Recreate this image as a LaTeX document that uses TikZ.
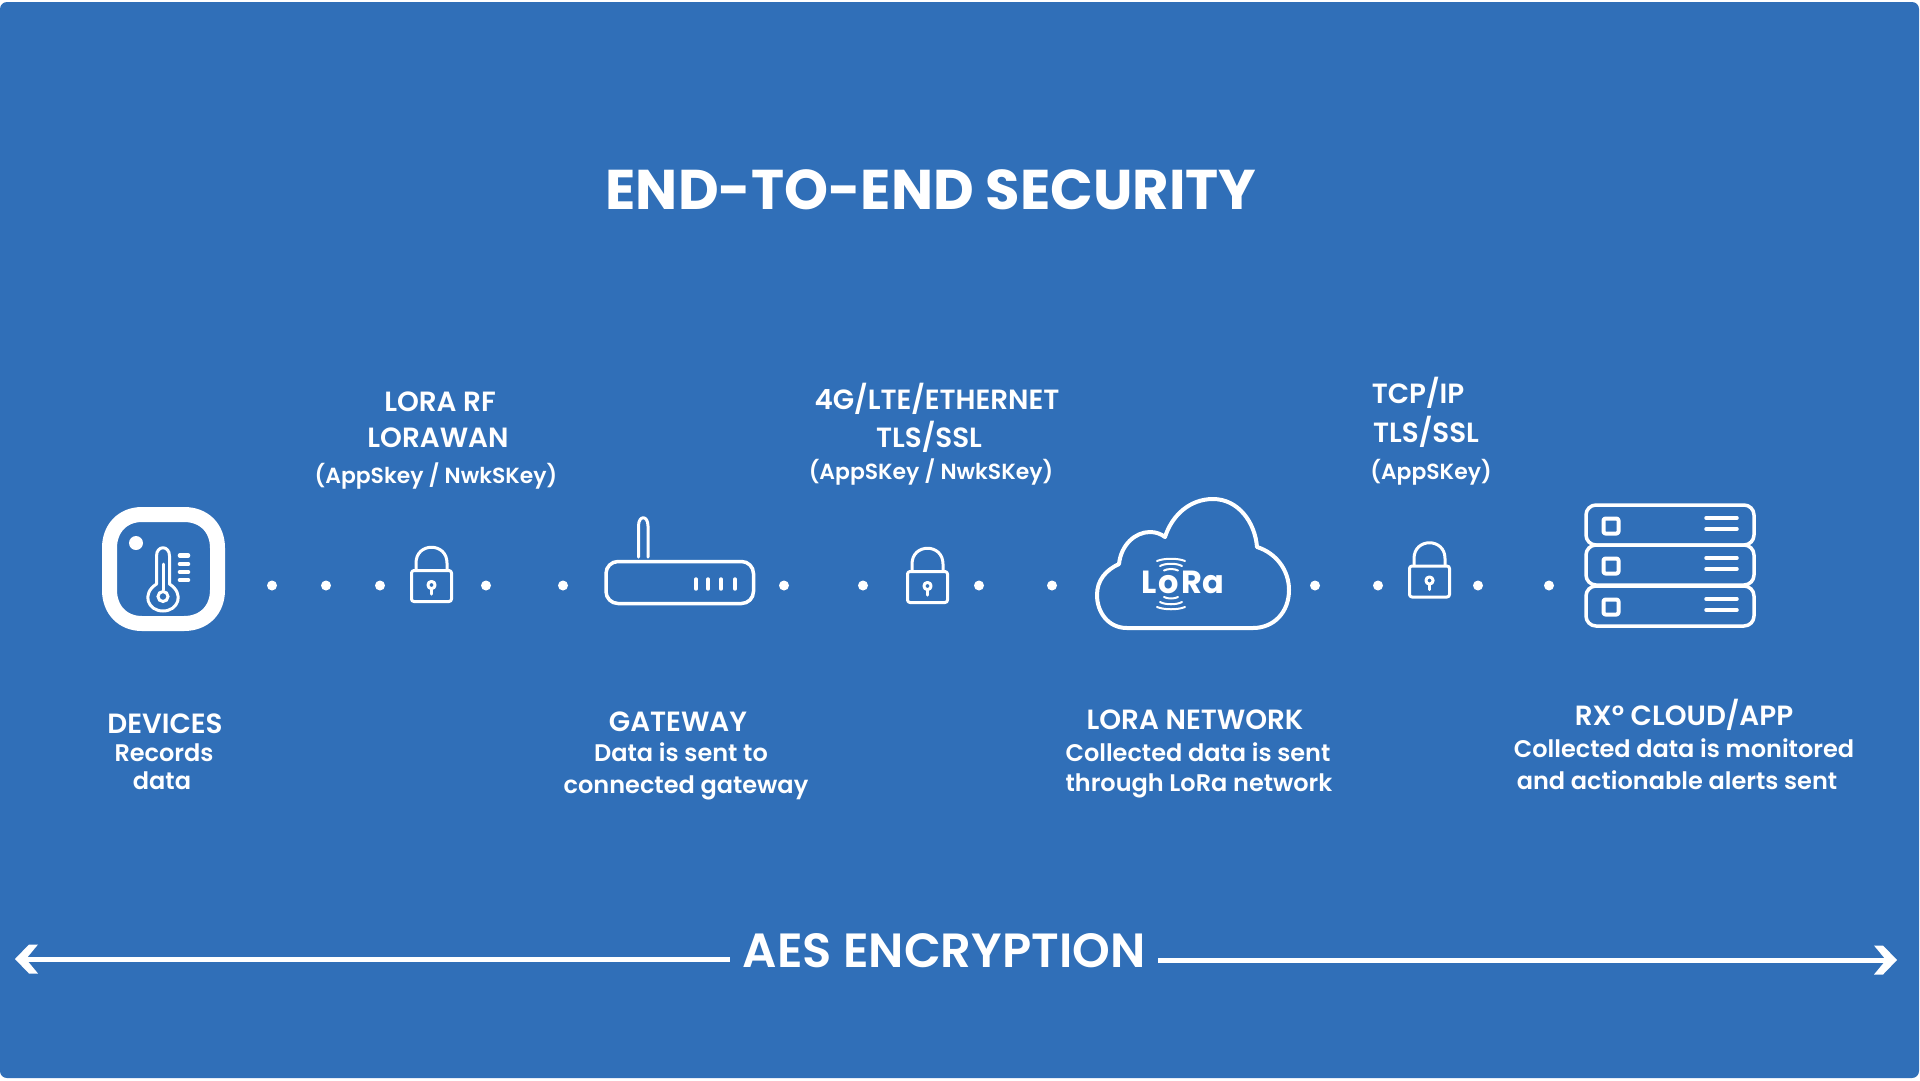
\documentclass[tikz,border=0pt]{standalone}
\usepackage{fontspec}
\usetikzlibrary{arrows.meta}
\setmainfont{Poppins}
\newfontfamily\psemi{Poppins SemiBold}
\newfontfamily\pbold{Poppins Bold}
\definecolor{bluebg}{HTML}{306FB8}
\pgfdeclarearrow{
  name=Chevron,
  setup code={
    \pgfarrowssettipend{0pt}
    \pgfarrowssetlineend{-8pt}
    \pgfarrowssetvisualbackend{-23pt}
  },
  drawing code={
    \pgfpathmoveto{\pgfpoint{0pt}{0pt}}
    \pgfpathlineto{\pgfpoint{-14pt}{14.5pt}}
    \pgfpathlineto{\pgfpoint{-23pt}{14.5pt}}
    \pgfpathlineto{\pgfpoint{-11pt}{0pt}}
    \pgfpathlineto{\pgfpoint{-23pt}{-14.5pt}}
    \pgfpathlineto{\pgfpoint{-14pt}{-14.5pt}}
    \pgfpathclose
    \pgfusepathqfill
  }
}
\tikzset{
  txt/.style={text=white,anchor=base,inner sep=0pt,outer sep=0pt},
  head/.style={txt,font=\psemi\fontsize{27.8}{30}\selectfont},
  keys/.style={txt,font=\psemi\fontsize{21.9}{26}\selectfont},
  body/.style={txt,font=\psemi\fontsize{24}{26}\selectfont},
  title/.style={txt,font=\pbold\fontsize{56}{60}\selectfont},
  aes/.style={txt,font=\psemi\fontsize{48}{52}\selectfont,inner sep=13pt},
  wline/.style={draw=white,line width=3pt,line cap=round,line join=round},
  bigarrow/.style={draw=white,line width=5pt,-Chevron},
  lockicon/.pic={
    \draw[wline,rounded corners=2.5pt] (-20,-15.5) rectangle (20,15.5);
    \draw[wline] (-15.5,-16) -- (-15.5,-23) .. controls (-15.5,-44) and (15.5,-44) .. (15.5,-23) -- (15.5,-16);
    \draw[wline] (0,-1) circle (3.6pt);
    \draw[wline] (0,3) -- (0,8);
  },
  serverrow/.pic={
    \draw[wline,line width=3.5pt,rounded corners=10pt] (-84,-20) rectangle (84,20);
    \draw[wline,line width=4pt,rounded corners=2pt] (-66.5,-6.5) rectangle (-51.5,8.5);
    \draw[wline,line width=3.5pt] (36,-7) -- (67,-7);
    \draw[wline,line width=3.5pt] (36,4) -- (67,4);
  },
}
\begin{document}
\begin{tikzpicture}[x=1pt,y=-1pt]
\useasboundingbox (0,0) rectangle (1920,1080);
\fill[white] (0,0) rectangle (1920,1080);
\fill[bluebg,rounded corners=7pt] (0,2) rectangle (1919,1078);

\node[title] (ttl) at (931,209) {END-TO-END SECURITY};

% dots
\foreach \px in {272,326,380,486,563,784,863,979,1052,1315,1378,1478,1549}
  \fill[white] (\px,585.5) circle (5pt);

% device
\draw[white,line width=15pt] (142,514.5) -- (184,514.5) .. controls (204,514.5) and (217.5,528) .. (217.5,548) -- (217.5,590) .. controls (217.5,610) and (204,623.5) .. (184,623.5) -- (142,623.5) .. controls (123,623.5) and (109.5,610) .. (109.5,590) -- (109.5,548) .. controls (109.5,528) and (123,514.5) .. (142,514.5) -- cycle;
\fill[white] (136,543) circle (7pt);
\draw[white,line width=3pt,line join=round] (156.5,584) -- (156.5,556) .. controls (156.5,545) and (169.5,545) .. (169.5,556) -- (169.5,584) .. controls (185,594) and (178,611) .. (163,611) .. controls (148,611) and (141,594) .. (156.5,584) -- cycle;
\draw[white,line width=3pt] (163,596.5) circle (5pt);
\draw[white,line width=3pt,line cap=round] (163,564) -- (163,590);
\foreach \py in {555.5,564,572,580}
  \draw[white,line width=4.6pt,line cap=round] (180,\py) -- (188,\py);

% router
\draw[wline,line width=3.5pt,rounded corners=12pt] (606,561.5) rectangle (753.5,603.5);
\draw[wline] (638.5,557) -- (638.5,526) .. controls (638.5,515) and (648,515) .. (648,526) -- (648,557);
\foreach \px in {696,708,721,735}
  \draw[wline,line width=3.4pt] (\px,579) -- (\px,589);

% locks
\pic at (431.5,586) {lockicon};
\pic at (927.5,587) {lockicon};
\pic at (1429.5,581.5) {lockicon};

% cloud
\draw[wline,line width=4pt] (1127,628) .. controls (1108,628) and (1097,612) .. (1097,595)
  .. controls (1097,580) and (1106,570) .. (1119,564)
  .. controls (1121,545) and (1135,532) .. (1150,532)
  .. controls (1156,532) and (1161,534) .. (1165,537)
  .. controls (1172,515) and (1190,499) .. (1213,499)
  .. controls (1238,499) and (1255,522) .. (1257,547)
  .. controls (1276,553) and (1289,570) .. (1289,590)
  .. controls (1289,612) and (1274,628) .. (1253,628) -- cycle;
\node[txt,font=\pbold\fontsize{32}{32}\selectfont] (lora) at (1183,593) {L\kern2pt o\kern2pt R\kern1pt a};
\foreach \yy/\hw/\dd in {561/14/-3,566/11/-3,570.5/7/-2,597/7/2,602/11/3,607/14/3}
  \draw[white,line width=2pt,line cap=round] (1171-\hw,\yy) .. controls (1171-\hw/2,\yy+\dd) and (1171+\hw/2,\yy+\dd) .. (1171+\hw,\yy);

% server
\pic at (1670,525) {serverrow};
\pic at (1670,565) {serverrow};
\pic at (1670,606) {serverrow};

% link labels
\node[head] (l1a) at (440,411) {LORA RF};
\node[head] (l1b) at (438,447) {LORAWAN};
\node[keys] (l1c) at (436,483) {(AppSkey / NwkSKey)};
\node[head] (l2a) at (937,409) {4G/LTE/ETHERNET};
\node[head] (l2b) at (929,447) {TLS/SSL};
\node[keys] (l2c) at (931,479) {(AppSKey / NwkSKey)};
\node[head] (l3a) at (1418,403) {TCP/IP};
\node[head] (l3b) at (1426,442) {TLS/SSL};
\node[keys] (l3c) at (1431,479) {(AppSKey)};

% stage labels
\node[head] (d1) at (165,733) {DEVICES};
\node[body] (d2) at (164,761) {Records};
\node[body] (d3) at (162,789) {data};
\node[head] (g1) at (678,731) {GATEWAY};
\node[body] (g2) at (681,761) {Data is sent to};
\node[body] (g3) at (686,793) {connected gateway};
\node[head] (n1) at (1195,729) {LORA NETWORK};
\node[body] (n2) at (1198,761) {Collected data is sent};
\node[body] (n3) at (1199,791.5) {through LoRa network};
\node[head] (r1) at (1684,725) {RX° CLOUD/APP};
\node[body] (r2) at (1684,757) {Collected data is monitored};
\node[body] (r3) at (1677,789) {and actionable alerts sent};

% AES arrow
\node[aes] (aesn) at (944,967) {AES ENCRYPTION};
\coordinate (leftend) at (15,959);
\coordinate (rightend) at (1897,960);
\draw[bigarrow] (aesn.west |- leftend) -- (leftend);
\draw[bigarrow] (aesn.east |- rightend) -- (rightend);
\end{tikzpicture}
\end{document}
